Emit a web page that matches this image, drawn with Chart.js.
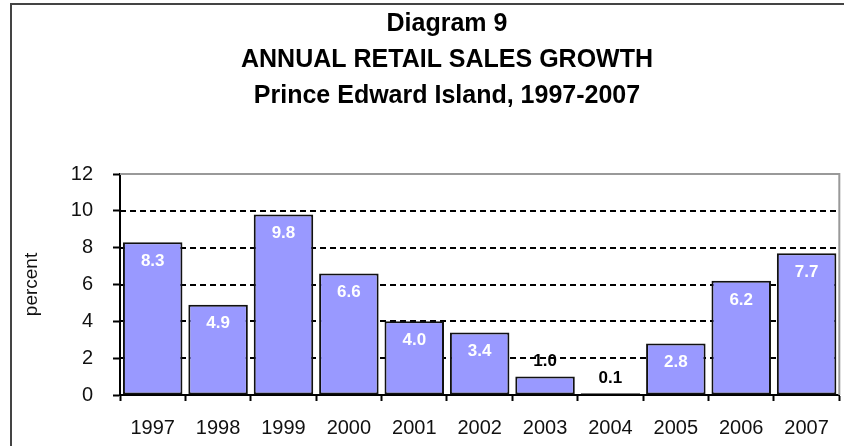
<!DOCTYPE html>
<html>
<head>
<meta charset="utf-8">
<script src="https://cdn.jsdelivr.net/npm/chart.js@4"></script>
<style>
    html, body { margin: 0; padding: 0; background: #fff; overflow: hidden; }
    #wrap { width: 844px; height: 446px; }
</style>
</head>
<body>
<div id="wrap"><canvas id="salesChart" width="844" height="446"></canvas></div>
<script>
    "use strict";

    // Data
    var years = ["1997", "1998", "1999", "2000", "2001", "2002", "2003", "2004", "2005", "2006", "2007"];
    var growth = [8.3, 4.9, 9.8, 6.6, 4.0, 3.4, 1.0, 0.1, 2.8, 6.2, 7.7];
    var titleLines = ["Diagram 9", "ANNUAL RETAIL SALES GROWTH", "Prince Edward Island, 1997-2007"];
    var dashedLevels = [2, 4, 6, 8, 10];

    var FONT = "'Liberation Sans', Arial, sans-serif";

    // Outer frame, plot frame and dashed grid
    var framePlugin = {
        id: "framePlugin",
        beforeDraw: function (chart) {
            var ctx = chart.ctx;
            ctx.save();
            ctx.fillStyle = "#fff";
            ctx.fillRect(0, 0, chart.width, chart.height);
            ctx.strokeStyle = "#444";
            ctx.lineWidth = 2;
            ctx.strokeRect(11, 4, 900, 500);
            ctx.restore();
        },
        beforeDatasetsDraw: function (chart) {
            var ctx = chart.ctx;
            var area = chart.chartArea;
            var y = chart.scales.y;
            ctx.save();
            ctx.strokeStyle = "#000";
            ctx.lineWidth = 2;
            ctx.setLineDash([6, 4]);
            dashedLevels.forEach(function (v) {
                var py = Math.round(y.getPixelForValue(v));
                ctx.beginPath();
                ctx.moveTo(area.left, py);
                ctx.lineTo(area.right, py);
                ctx.stroke();
            });
            ctx.setLineDash([]);
            ctx.strokeStyle = "#999";
            var top = Math.round(y.getPixelForValue(12));
            ctx.beginPath();
            ctx.moveTo(area.left, top);
            ctx.lineTo(area.right, top);
            ctx.lineTo(area.right, area.bottom);
            ctx.stroke();
            ctx.restore();
        },
        afterDraw: function (chart) {
            var ctx = chart.ctx;
            ctx.save();
            ctx.fillStyle = "#000";
            ctx.font = "bold 25px " + FONT;
            ctx.textAlign = "center";
            ctx.textBaseline = "middle";
            titleLines.forEach(function (t, i) {
                ctx.fillText(t, 447, 24 + i * 36);
            });
            ctx.restore();
        }
    };

    // Value labels on the bars
    var valueLabels = {
        id: "valueLabels",
        afterDatasetsDraw: function (chart) {
            var ctx = chart.ctx;
            var meta = chart.getDatasetMeta(0);
            ctx.save();
            ctx.font = "bold 17px " + FONT;
            ctx.textAlign = "center";
            ctx.textBaseline = "middle";
            meta.data.forEach(function (bar, i) {
                var v = growth[i];
                if (v < 2) {
                    ctx.fillStyle = "#000";
                    ctx.fillText(v.toFixed(1), bar.x, bar.y - 15);
                } else {
                    ctx.fillStyle = "#fff";
                    ctx.fillText(v.toFixed(1), bar.x, bar.y + 19);
                }
            });
            ctx.restore();
        }
    };

    var ctx = document.getElementById("salesChart").getContext("2d");
    new Chart(ctx, {
        type: "bar",
        data: {
            labels: years,
            datasets: [
                {
                    data: growth,
                    backgroundColor: "#9999ff",
                    borderColor: "#111",
                    borderWidth: 2,
                    borderSkipped: false,
                    barPercentage: 0.91,
                    categoryPercentage: 1.0,
                },
            ],
        },
        options: {
            responsive: false,
            animation: false,
            layout: { padding: { top: 174, left: 0, right: 3, bottom: 0 } },
            plugins: {
                legend: { display: false },
                title: { display: false },
                tooltip: { enabled: false },
            },
            scales: {
                x: {
                    grid: {
                        offset: true,
                        drawOnChartArea: false,
                        drawTicks: true,
                        tickLength: 6,
                        tickWidth: 2,
                        tickColor: "#000",
                    },
                    border: { color: "#000", width: 2 },
                    ticks: {
                        color: "#111",
                        font: { family: FONT, size: 20 },
                        padding: 15,
                        maxRotation: 0,
                    },
                    afterFit: function (scale) {
                        scale.height = 51;
                    },
                },
                y: {
                    min: 0,
                    max: 12,
                    grid: {
                        drawOnChartArea: false,
                        drawTicks: true,
                        tickLength: 7,
                        tickWidth: 2,
                        tickColor: "#000",
                    },
                    border: { color: "#000", width: 2 },
                    ticks: {
                        stepSize: 2,
                        color: "#111",
                        font: { family: FONT, size: 20 },
                        padding: 20,
                    },
                    title: {
                        display: true,
                        text: "percent",
                        color: "#111",
                        font: { family: FONT, size: 19 },
                        padding: { top: 20, bottom: 0 },
                    },
                    afterFit: function (scale) {
                        scale.width = 120;
                    },
                },
            },
        },
        plugins: [framePlugin, valueLabels],
    });
</script>
</body>
</html>
